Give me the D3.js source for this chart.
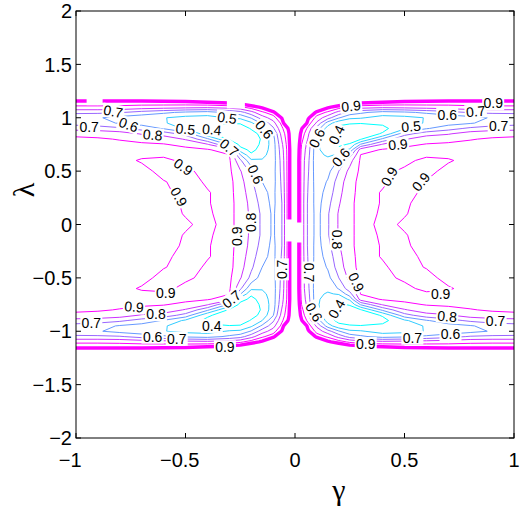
<!DOCTYPE html>
<html><head><meta charset="utf-8">
<script src="https://cdn.jsdelivr.net/npm/d3@7"></script>
<style>body{margin:0;background:#fff} svg{display:block}</style>
</head><body>
<svg id="chart" width="525" height="514"></svg>
<script>
// |gamma| columns and lambda>=0 rows of the sampled surface (mirrored in lambda)
const gammaHalf = [0, 0.03, 0.06, 0.1, 0.15, 0.2, 0.25, 0.3, 0.4, 0.5, 0.6, 0.7, 0.8, 0.9, 1.0];
const lambdaHalf = [0, 0.1, 0.2, 0.3, 0.4, 0.5, 0.6, 0.65, 0.7, 0.75, 0.8, 0.85, 0.9, 0.95, 1.0, 1.05, 1.1, 1.15, 1.2, 2.0];
// values for gamma<0 (column a = |gamma|)
const leftHalf = [
 [1.2,0.95,0.70,0.58,0.68,0.78,0.86,0.93,0.88,0.91,0.93,0.93,0.93,0.93,0.93],
 [1.2,0.95,0.70,0.58,0.68,0.78,0.86,0.93,0.89,0.895,0.93,0.93,0.93,0.93,0.93],
 [1.2,0.95,0.70,0.57,0.66,0.77,0.86,0.93,0.895,0.88,0.95,0.93,0.93,0.93,0.93],
 [1.2,0.95,0.71,0.57,0.63,0.75,0.85,0.93,0.895,0.87,0.92,0.93,0.93,0.93,0.93],
 [1.2,0.95,0.72,0.56,0.60,0.72,0.84,0.93,0.91,0.87,0.905,0.93,0.93,0.93,0.93],
 [1.2,0.95,0.73,0.56,0.55,0.67,0.81,0.92,0.93,0.88,0.87,0.93,0.93,0.93,0.93],
 [1.2,0.95,0.74,0.55,0.51,0.52,0.72,0.915,0.93,0.93,0.87,0.89,0.93,0.93,0.93],
 [1.2,0.95,0.75,0.55,0.47,0.42,0.61,0.905,0.92,0.93,0.92,0.92,0.93,0.93,0.93],
 [1.2,0.95,0.76,0.55,0.44,0.37,0.45,0.85,0.91,0.92,0.92,0.93,0.93,0.93,0.93],
 [1.2,0.96,0.78,0.55,0.42,0.35,0.36,0.58,0.81,0.88,0.905,0.91,0.92,0.93,0.93],
 [1.2,0.97,0.81,0.56,0.41,0.35,0.33,0.38,0.62,0.79,0.86,0.88,0.895,0.91,0.915],
 [1.2,0.98,0.84,0.59,0.43,0.36,0.33,0.33,0.42,0.66,0.76,0.79,0.85,0.87,0.88],
 [1.2,1.01,0.88,0.68,0.50,0.41,0.34,0.33,0.37,0.48,0.59,0.66,0.72,0.75,0.76],
 [1.2,1.2,0.93,0.76,0.62,0.48,0.41,0.405,0.42,0.45,0.51,0.56,0.59,0.64,0.66],
 [1.2,1.2,1.01,0.85,0.75,0.61,0.52,0.51,0.46,0.47,0.505,0.535,0.565,0.61,0.63],
 [1.2,1.2,1.2,0.96,0.88,0.76,0.66,0.62,0.56,0.58,0.62,0.66,0.71,0.72,0.72],
 [1.2,1.2,1.2,1.2,1.02,0.95,0.88,0.85,0.83,0.84,0.85,0.86,0.875,0.88,0.88],
 [1.2,1.2,1.2,1.2,1.2,1.15,1.08,1.05,1.02,0.99,0.98,0.97,0.97,0.97,0.97],
 [1.2,1.2,1.2,1.2,1.2,1.2,1.2,1.2,1.2,1.2,1.2,1.2,1.2,1.2,1.2],
 [1.2,1.2,1.2,1.2,1.2,1.2,1.2,1.2,1.2,1.2,1.2,1.2,1.2,1.2,1.2]
];
// values for gamma>0
const rightHalf = [
 [1.2,0.86,0.68,0.56,0.69,0.81,0.88,0.93,0.88,0.91,0.93,0.93,0.93,0.93,0.93],
 [1.2,0.86,0.68,0.56,0.69,0.81,0.88,0.93,0.89,0.895,0.93,0.93,0.93,0.93,0.93],
 [1.2,0.86,0.68,0.555,0.67,0.79,0.88,0.93,0.895,0.88,0.95,0.93,0.93,0.93,0.93],
 [1.2,0.86,0.69,0.55,0.64,0.77,0.87,0.93,0.895,0.87,0.92,0.93,0.93,0.93,0.93],
 [1.2,0.86,0.70,0.54,0.61,0.75,0.86,0.93,0.91,0.87,0.905,0.93,0.93,0.93,0.93],
 [1.2,0.86,0.71,0.53,0.57,0.70,0.83,0.92,0.93,0.88,0.87,0.93,0.93,0.93,0.93],
 [1.2,0.86,0.72,0.52,0.52,0.61,0.76,0.915,0.93,0.93,0.87,0.89,0.93,0.93,0.93],
 [1.2,0.87,0.73,0.52,0.49,0.51,0.66,0.905,0.92,0.93,0.92,0.92,0.93,0.93,0.93],
 [1.2,0.88,0.74,0.52,0.45,0.43,0.52,0.85,0.91,0.92,0.92,0.93,0.93,0.93,0.93],
 [1.2,0.90,0.76,0.52,0.42,0.38,0.41,0.61,0.81,0.88,0.905,0.91,0.92,0.93,0.93],
 [1.2,0.93,0.79,0.53,0.41,0.36,0.35,0.39,0.62,0.79,0.86,0.88,0.895,0.91,0.915],
 [1.2,0.96,0.82,0.57,0.42,0.36,0.34,0.34,0.41,0.66,0.76,0.79,0.85,0.87,0.88],
 [1.2,1.01,0.87,0.66,0.45,0.37,0.35,0.34,0.37,0.48,0.59,0.66,0.72,0.75,0.76],
 [1.2,1.2,0.95,0.78,0.55,0.43,0.41,0.405,0.42,0.45,0.51,0.56,0.59,0.64,0.66],
 [1.2,1.2,1.02,0.86,0.74,0.61,0.52,0.51,0.46,0.47,0.505,0.535,0.565,0.61,0.63],
 [1.2,1.2,1.2,0.96,0.88,0.76,0.66,0.62,0.56,0.58,0.62,0.66,0.71,0.72,0.72],
 [1.2,1.2,1.2,1.2,1.02,0.95,0.88,0.85,0.83,0.84,0.85,0.86,0.875,0.88,0.88],
 [1.2,1.2,1.2,1.2,1.2,1.15,1.08,1.05,1.02,0.99,0.98,0.97,0.97,0.97,0.97],
 [1.2,1.2,1.2,1.2,1.2,1.2,1.2,1.2,1.2,1.2,1.2,1.2,1.2,1.2,1.2],
 [1.2,1.2,1.2,1.2,1.2,1.2,1.2,1.2,1.2,1.2,1.2,1.2,1.2,1.2,1.2]
];
const levels = [0.4, 0.5, 0.6, 0.7, 0.8, 0.9, 1.0];
const xTicks = [-1, -0.5, 0, 0.5, 1];
const yTicks = [-2, -1.5, -1, -0.5, 0, 0.5, 1, 1.5, 2];
// inline contour labels: [gamma, lambda, text, rotation]
const labels = [
 [-0.83,1.06,"0.7",10],[-0.76,0.935,"0.6",20],[-0.94,0.91,"0.7",0],[-0.65,0.84,"0.8",5],
 [-0.50,0.895,"0.5",5],[-0.38,0.89,"0.4",5],[-0.31,1.0,"0.5",8],[-0.14,0.89,"0.6",50],
 [-0.30,0.72,"0.7",40],[-0.18,0.47,"0.6",65],[-0.51,0.54,"0.9",35],[-0.53,0.26,"0.9",60],
 [-0.20,0.02,"0.8",-90],
 [-0.265,-0.11,"0.9",-90],[-0.06,-0.42,"0.7",-90],[-0.59,-0.64,"0.9",0],[-0.735,-0.77,"0.9",5],
 [-0.29,-0.70,"0.7",-40],[-0.635,-0.84,"0.8",0],[-0.93,-0.92,"0.7",0],[-0.38,-0.95,"0.4",0],
 [-0.65,-1.05,"0.6",0],[-0.54,-1.07,"0.7",0],[-0.32,-1.15,"0.9",0],
 [0.256,1.11,"0.9",-5],[0.10,0.81,"0.6",-65],[0.19,0.84,"0.4",-65],[0.21,0.63,"0.6",-50],
 [0.53,0.92,"0.5",-5],[0.47,0.75,"0.9",-5],[0.43,0.45,"0.9",-60],[0.575,0.40,"0.9",-50],
 [0.695,1.03,"0.6",0],[0.825,1.06,"0.7",-5],[0.905,1.135,"0.9",0],[0.93,0.92,"0.7",0],
 [0.19,-0.14,"0.8",90],[0.064,-0.45,"0.7",90],[0.28,-0.54,"0.9",65],[0.087,-0.82,"0.6",60],
 [0.19,-0.79,"0.4",-60],[0.665,-0.65,"0.9",0],[0.695,-0.86,"0.8",5],[0.916,-0.90,"0.7",0],
 [0.71,-1.03,"0.6",0],[0.536,-1.06,"0.7",0],[0.323,-1.12,"0.9",0]
];
// label breaks without visible text: [gamma, lambda, widthPx, heightPx]
const gaps = [[-0.915,1.16,16,9],[-0.27,1.13,18,9],[-0.025,-0.056,7,22],[0.02,-0.075,7,20]];

// ---- assemble full grid (mirror in lambda, join halves in gamma, pad edges)
const gammaCore = [];
for (let i = gammaHalf.length - 1; i >= 1; i--) gammaCore.push(-gammaHalf[i]);
gammaCore.push(0);
for (let i = 1; i < gammaHalf.length; i++) gammaCore.push(gammaHalf[i]);
const gammaFull = [-1.1, ...gammaCore, 1.1];
function fullRow(k) {
  const r = [];
  for (let i = gammaHalf.length - 1; i >= 1; i--) r.push(leftHalf[k][i]);
  r.push(leftHalf[k][0]);
  for (let i = 1; i < gammaHalf.length; i++) r.push(rightHalf[k][i]);
  return [r[0], ...r, r[r.length - 1]];
}
const rowIdx = [];
for (let k = lambdaHalf.length - 1; k >= 1; k--) rowIdx.push([-lambdaHalf[k], k]);
for (let k = 0; k < lambdaHalf.length; k++) rowIdx.push([lambdaHalf[k], k]);
const lambdaFull = [-2.1, ...rowIdx.map(d => d[0]), 2.1];
const rowsFull = [fullRow(rowIdx[0][1]), ...rowIdx.map(d => fullRow(d[1])), fullRow(rowIdx[rowIdx.length-1][1])];
const nx = gammaFull.length, ny = lambdaFull.length;
const values = [];
rowsFull.forEach(r => r.forEach(v => values.push(v)));

// ---- scales
const X0 = 76, X1 = 514, Y0 = 11, Y1 = 438;
const xS = d3.scaleLinear().domain([-1, 1]).range([X0, X1]);
const yS = d3.scaleLinear().domain([-2, 2]).range([Y1, Y0]);
function idxMap(arr, c) {
  let t = c - 0.5;
  t = Math.max(0, Math.min(arr.length - 1, t));
  const i = Math.min(Math.floor(t), arr.length - 2);
  const f = t - i;
  return arr[i] + f * (arr[i + 1] - arr[i]);
}
const proj = d3.geoTransform({ point(x, y) { this.stream.point(xS(idxMap(gammaFull, x)), yS(idxMap(lambdaFull, y))); } });
const path = d3.geoPath(proj);
function cool(v) {
  const t = Math.max(0, Math.min(1, (v - 0.4) / 0.5));
  return d3.rgb(255 * t, 255 * (1 - t), 255).formatHex();
}

const svg = d3.select("#chart");
svg.append("defs").append("clipPath").attr("id", "clip")
  .append("rect").attr("x", X0).attr("y", Y0).attr("width", X1 - X0).attr("height", Y1 - Y0);
const plot = svg.append("g").attr("clip-path", "url(#clip)");

const contours = d3.contours().size([nx, ny]).thresholds(levels)(values);
plot.selectAll("path.c").data(contours).join("path")
  .attr("class", "c")
  .attr("d", path)
  .attr("fill", "none")
  .attr("stroke", d => cool(d.value))
  .attr("stroke-width", d => d.value >= 1 ? 3.4 : 1)
  .attr("stroke-linejoin", "round");

// gaps
plot.selectAll("rect.gap").data(gaps).join("rect").attr("class", "gap")
  .attr("x", d => xS(d[0]) - d[2] / 2).attr("y", d => yS(d[1]) - d[3] / 2)
  .attr("width", d => d[2]).attr("height", d => d[3]).attr("fill", "#fff");

// labels: backgrounds first, then texts
const tf = d => `translate(${xS(d[0])},${yS(d[1])}) rotate(${d[3]})`;
plot.append("g").selectAll("rect").data(labels).join("rect")
  .attr("transform", tf)
  .attr("x", -11).attr("y", -7).attr("width", 22).attr("height", 14).attr("fill", "#fff");
plot.append("g").selectAll("text").data(labels).join("text")
  .attr("transform", tf)
  .attr("text-anchor", "middle").attr("dy", "0.36em")
  .style("font", "14px 'Liberation Sans', Arial, sans-serif").attr("fill", "#000")
  .text(d => d[2]);

// frame and ticks
const ax = svg.append("g");
ax.append("rect").attr("x", X0).attr("y", Y0).attr("width", X1 - X0).attr("height", Y1 - Y0)
  .attr("fill", "none").attr("stroke", "#000").attr("stroke-width", 1);
const TL = 5;
xTicks.forEach(v => {
  ax.append("line").attr("x1", xS(v)).attr("x2", xS(v)).attr("y1", Y1).attr("y2", Y1 - TL).attr("stroke", "#000");
  ax.append("line").attr("x1", xS(v)).attr("x2", xS(v)).attr("y1", Y0).attr("y2", Y0 + TL).attr("stroke", "#000");
});
yTicks.forEach(v => {
  ax.append("line").attr("x1", X0).attr("x2", X0 + TL).attr("y1", yS(v)).attr("y2", yS(v)).attr("stroke", "#000");
  ax.append("line").attr("x1", X1).attr("x2", X1 - TL).attr("y1", yS(v)).attr("y2", yS(v)).attr("stroke", "#000");
});
const fmt = v => (v < 0 ? "\u2212" : "") + Math.abs(v);
const tickFont = "20px 'Liberation Sans', Arial, sans-serif";
ax.selectAll("text.xt").data(xTicks).join("text").attr("class", "xt")
  .attr("x", v => xS(v) - (v < 0 ? 5.8 : 0)).attr("y", 467)
  .attr("text-anchor", "middle").style("font", tickFont).text(fmt);
ax.selectAll("text.yt").data(yTicks).join("text").attr("class", "yt")
  .attr("x", 72).attr("y", v => yS(v)).attr("dy", "0.36em")
  .attr("text-anchor", "end").style("font", tickFont).text(fmt);
ax.append("text").attr("x", 339).attr("y", 500).attr("text-anchor", "middle")
  .style("font", "30px 'Liberation Serif', 'DejaVu Serif', serif").text("\u03b3");
ax.append("text").attr("transform", "translate(34,190) rotate(-90)").attr("text-anchor", "middle")
  .style("font", "30px 'Liberation Serif', 'DejaVu Serif', serif").text("\u03bb");
</script>
</body></html>
